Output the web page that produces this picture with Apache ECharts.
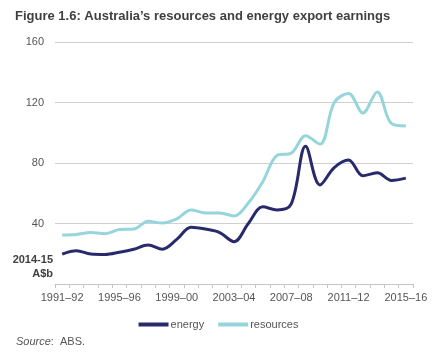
<!DOCTYPE html>
<html>
<head>
<meta charset="utf-8">
<script src="https://cdn.jsdelivr.net/npm/echarts@6/dist/echarts.min.js"></script>
<style>
html,body{margin:0;padding:0;background:#fff;}
#chart{width:437px;height:357px;}
</style>
</head>
<body>
<div id="chart"></div>
<script>
var categories = ['1991–92','1992–93','1993–94','1994–95','1995–96','1996–97','1997–98','1998–99','1999–00','2000–01','2001–02','2002–03','2003–04','2004–05','2005–06','2006–07','2007–08','2008–09','2009–10','2010–11','2011–12','2012–13','2013–14','2014–15','2015–16'];
var energy = [19.8, 22, 19.8, 19.5, 21, 23, 25.8, 23, 29.5, 37.5, 36.3, 34, 28, 40, 51, 49, 53, 91, 65.5, 77, 82, 71.5, 73.5, 68.5, 70];
var resources = [32.4, 32.8, 34, 33.3, 36, 36.3, 41.5, 40.3, 43, 48.9, 47, 47, 45, 53.5, 67.5, 85, 86.5, 98, 92.5, 120, 126, 113, 127, 106, 104.5];
var yTicks = [0, 40, 80, 120, 160];

var FONT = 'Liberation Sans, Arial, sans-serif';
var chart = echarts.init(document.getElementById('chart'));
chart.setOption({
  animation: false,
  backgroundColor: '#fff',
  title: {
    text: "Figure 1.6: Australia’s resources and energy export earnings",
    left: 10, top: 5,
    textStyle: {fontFamily: FONT, fontSize: 13, fontWeight: 'bold', color: '#404040'}
  },
  grid: {left: 55, right: 24, top: 42, bottom: 73, containLabel: false},
  legend: {
    bottom: 22, left: 'center',
    icon: 'rect', itemWidth: 30, itemHeight: 4, itemGap: 14,
    textStyle: {fontFamily: FONT, fontSize: 11, color: '#555', padding: [0,0,0,-3]},
    data: ['energy', 'resources']
  },
  xAxis: {
    type: 'category', data: categories, boundaryGap: true,
    axisLine: {lineStyle: {color: '#c4c4c4'}},
    axisTick: {show: true, length: 4, interval: 0, lineStyle: {color: '#c4c4c4'}},
    axisLabel: {interval: 3, fontFamily: FONT, fontSize: 11, color: '#555', margin: 8}
  },
  yAxis: {
    type: 'value', min: yTicks[0], max: yTicks[yTicks.length-1], interval: 40,
    axisLine: {show: false}, axisTick: {show: false},
    splitLine: {lineStyle: {color: '#d0d0d0'}},
    axisLabel: {fontFamily: FONT, fontSize: 11, color: '#555', margin: 11,
      formatter: function(v){ return v === 0 ? '' : String(v); }}
  },
  graphic: [
    {type: 'text', x: 53, y: 253, style: {text: '2014-15\nA$b', align: 'right', verticalAlign: 'top', font: 'bold 11px ' + FONT, fill: '#404040', lineHeight: 14}},
    {type: 'text', x: 16, y: 336, style: {text: '{i|Source}:  ABS.', font: '11px ' + FONT, fill: '#555',
      rich: {i: {fontStyle: 'italic', fontFamily: FONT, fontSize: 11, fill: '#555'}}}}
  ],
  series: [
    {name: 'energy', type: 'line', data: energy, smooth: 0.35, symbol: 'none',
     lineStyle: {width: 3, color: '#282a6c'}, itemStyle: {color: '#282a6c'}, z: 3},
    {name: 'resources', type: 'line', data: resources, smooth: 0.35, symbol: 'none',
     lineStyle: {width: 3, color: '#96d5dc'}, itemStyle: {color: '#96d5dc'}, z: 2}
  ]
});
</script>
</body>
</html>
